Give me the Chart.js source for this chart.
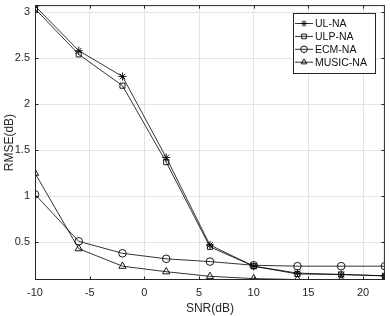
<!DOCTYPE html>
<html><head><meta charset="utf-8">
<script src="https://cdn.jsdelivr.net/npm/chart.js@4"></script>
<style>html,body{margin:0;padding:0;background:#fff}#wrap{width:390px;height:316px}</style>
</head><body><div id="wrap"><canvas id="c" width="390" height="316"></canvas></div>
<script>
const snr = [-10, -6, -2, 2, 6, 10, 14, 18, 22];
const ulNA = [3.065, 2.58, 2.30, 1.42, 0.47, 0.24, 0.165, 0.15, 0.135];
const ulpNA = [3.035, 2.54, 2.20, 1.37, 0.45, 0.24, 0.155, 0.15, 0.135];
const ecmNA = [1.02, 0.51, 0.38, 0.32, 0.29, 0.25, 0.24, 0.24, 0.24];
const musicNA = [1.25, 0.43, 0.24, 0.18, 0.13, 0.105, 0.095, 0.095, 0.095];
const seriesNames = ['UL-NA', 'ULP-NA', 'ECM-NA', 'MUSIC-NA'];
const xTicks = [-10, -5, 0, 5, 10, 15, 20];
const yTicks = [0.5, 1, 1.5, 2, 2.5, 3];

const FONT = '"Liberation Sans", Arial, sans-serif';
const styles = ['star', 'rect', 'circle', 'triangle'];
const radii = [4, 3.6, 3.8, 4.2];
function mk(vals, i) {
  return {
    label: seriesNames[i],
    data: snr.map((x, k) => ({x: x, y: vals[k]})),
    showLine: true,
    borderColor: '#000',
    borderWidth: 0.8,
    pointStyle: styles[i],
    pointRadius: radii[i],
    pointBorderColor: '#000',
    pointBackgroundColor: 'rgba(0,0,0,0)',
    pointBorderWidth: 0.9,
    tension: 0
  };
}

const frame = {
  id: 'frame',
  afterDatasetsDraw(chart) {
    const {ctx, chartArea: a, scales} = chart;
    ctx.save();
    ctx.strokeStyle = '#262626';
    ctx.lineWidth = 1;
    ctx.strokeRect(a.left + 0.5, a.top + 0.5, a.right - a.left - 1, a.bottom - a.top - 1);
    ctx.beginPath();
    const tl = 3.5;
    xTicks.forEach(v => {
      const x = Math.round(scales.x.getPixelForValue(v)) + 0.5;
      ctx.moveTo(x, a.bottom); ctx.lineTo(x, a.bottom - tl);
      ctx.moveTo(x, a.top); ctx.lineTo(x, a.top + tl);
    });
    yTicks.forEach(v => {
      const y = Math.round(scales.y.getPixelForValue(v)) + 0.5;
      ctx.moveTo(a.left, y); ctx.lineTo(a.left + tl, y);
      ctx.moveTo(a.right, y); ctx.lineTo(a.right - tl, y);
    });
    ctx.stroke();
    // legend
    const bx = 293, by = 13, bw = 82, bh = 60;
    ctx.fillStyle = '#fff';
    ctx.fillRect(bx, by, bw, bh);
    ctx.strokeStyle = '#262626';
    ctx.strokeRect(bx + 0.5, by + 0.5, bw, bh);
    ctx.font = '10.5px ' + FONT;
    ctx.textBaseline = 'middle';
    ctx.textAlign = 'left';
    chart.data.datasets.forEach((ds, i) => {
      const yy = by + 10.5 + i * 12.9;
      ctx.strokeStyle = '#000';
      ctx.lineWidth = 0.8;
      ctx.beginPath();
      ctx.moveTo(bx + 2, yy); ctx.lineTo(bx + 20, yy);
      ctx.stroke();
      ctx.lineWidth = 0.9;
      ctx.fillStyle = 'rgba(0,0,0,0)';
      Chart.helpers.drawPoint(ctx, {pointStyle: ds.pointStyle, radius: 3.3, borderWidth: 0.9, rotation: 0}, bx + 11, yy);
      ctx.fillStyle = '#111';
      ctx.fillText(ds.label, bx + 22, yy + 0.5);
    });
    ctx.restore();
  }
};

new Chart(document.getElementById('c'), {
  type: 'scatter',
  data: {datasets: [mk(ulNA, 0), mk(ulpNA, 1), mk(ecmNA, 2), mk(musicNA, 3)]},
  options: {
    responsive: false,
    animation: false,
    devicePixelRatio: 1,
    layout: {padding: {top: 4, right: 4, left: 0, bottom: 0}},
    plugins: {legend: {display: false}, tooltip: {enabled: false}},
    scales: {
      x: {
        type: 'linear', min: -10, max: 22,
        afterBuildTicks: s => { s.ticks = xTicks.map(v => ({value: v})); },
        afterFit: s => { s.height = 36; s.paddingLeft = 0; s.paddingRight = 0; },
        grid: {color: '#e3e3e3', lineWidth: 1, drawTicks: false},
        border: {display: false},
        ticks: {color: '#262626', padding: 6, maxRotation: 0, font: {family: FONT, size: 11}},
        title: {display: true, text: 'SNR(dB)', color: '#262626', padding: {top: 2, bottom: 0}, font: {family: FONT, size: 12}}
      },
      y: {
        type: 'linear', min: 0.09, max: 3.075,
        afterBuildTicks: s => { s.ticks = yTicks.map(v => ({value: v})); },
        afterFit: s => { s.width = 35; s.paddingTop = 0; s.paddingBottom = 0; },
        grid: {color: '#e3e3e3', lineWidth: 1, drawTicks: false},
        border: {display: false},
        ticks: {color: '#262626', padding: 5, font: {family: FONT, size: 11}, callback: v => String(v)},
        title: {display: true, text: 'RMSE(dB)', color: '#262626', padding: {top: 2, bottom: 0}, font: {family: FONT, size: 12}}
      }
    }
  },
  plugins: [frame]
});
</script></body></html>
